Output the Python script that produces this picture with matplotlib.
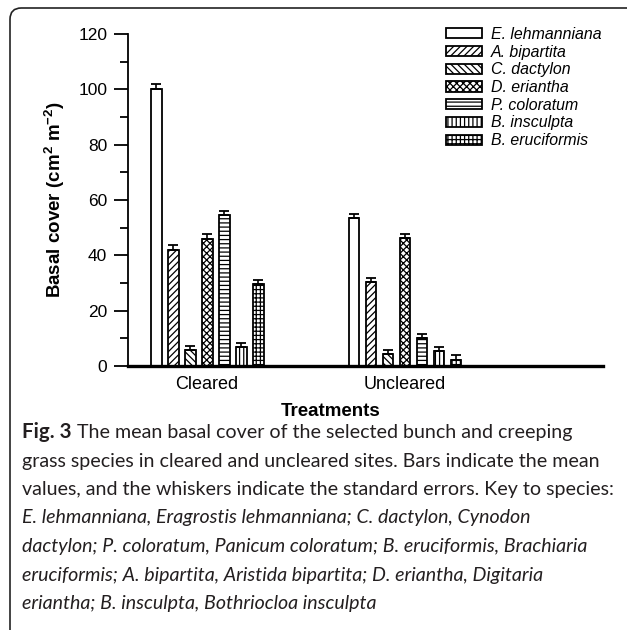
import matplotlib
matplotlib.use("Agg")
import matplotlib.pyplot as plt
import numpy as np
from matplotlib.patches import FancyBboxPatch

# ---------------- data ----------------
treatments = ["Cleared", "Uncleared"]
species = ["E. lehmanniana", "A. bipartita", "C. dactylon", "D. eriantha",
           "P. coloratum", "B. insculpta", "B. eruciformis"]
cleared_mean = [100.3, 41.9, 5.7, 45.9, 54.7, 6.9, 29.5]
cleared_se = [1.6, 1.7, 1.7, 1.7, 1.4, 1.5, 1.7]
uncleared_mean = [53.4, 30.5, 4.2, 46.1, 10.0, 5.3, 2.2]
uncleared_se = [1.6, 1.4, 1.7, 1.7, 1.7, 1.6, 1.7]
yticks_major = [0, 20, 40, 60, 80, 100, 120]
yticks_minor = [10, 30, 50, 70, 90, 110]

caption_lines = [
    ("Fig. 3", " The mean basal cover of the selected bunch and creeping", "normal"),
    ("", "grass species in cleared and uncleared sites. Bars indicate the mean", "normal"),
    ("", "values, and the whiskers indicate the standard errors. Key to species:", "normal"),
    ("", "E. lehmanniana, Eragrostis lehmanniana; C. dactylon, Cynodon", "italic"),
    ("", "dactylon; P. coloratum, Panicum coloratum; B. eruciformis, Brachiaria", "italic"),
    ("", "eruciformis; A. bipartita, Aristida bipartita; D. eriantha, Digitaria", "italic"),
    ("", "eriantha; B. insculpta, Bothriocloa insculpta", "italic"),
]

# ---------------- style ----------------
plt.rcParams["font.family"] = ["Liberation Sans", "DejaVu Sans"]
plt.rcParams["mathtext.fontset"] = "custom"
plt.rcParams["mathtext.rm"] = "Liberation Sans:bold"
plt.rcParams["mathtext.bf"] = "Liberation Sans:bold"
plt.rcParams["hatch.linewidth"] = 0.9
plt.rcParams["hatch.color"] = "black"

W, H, DPI = 627, 630, 100
fig = plt.figure(figsize=(W / DPI, H / DPI), dpi=DPI)

def px(x, y):
    return x / W, 1 - y / H

# rounded frame around the figure (clipped at right and bottom)
frame = FancyBboxPatch(px(10, 680), (700 - 10) / W, (680 - 8) / H,
                       boxstyle="round,pad=0,rounding_size=0.018",
                       transform=fig.transFigure, fill=False,
                       edgecolor="#222222", linewidth=1.2, clip_on=True)
fig.patches.append(frame)

ax_left, ax_right, ax_top, ax_bottom = 128, 603, 34, 366
ax = fig.add_axes([ax_left / W, 1 - ax_bottom / H, (ax_right - ax_left) / W,
                   (ax_bottom - ax_top) / H])

hatches = [None, "/////", "\\\\\\\\\\", "xxxxx", "----", "||||", "++++"]
width = 0.054
step = 0.0859
x = np.arange(len(treatments))

for i, sp in enumerate(species):
    means = [cleared_mean[i], uncleared_mean[i]]
    ses = [cleared_se[i], uncleared_se[i]]
    pos = x + (i - 3) * step
    ax.bar(pos, means, width=width, color="white", edgecolor="black",
           linewidth=1.3, hatch=hatches[i], label=sp, zorder=2)
    ax.errorbar(pos, means, yerr=[np.zeros(len(means)), ses], fmt="none",
                ecolor="black", elinewidth=1.2, capsize=3.5, capthick=1.3,
                zorder=3)

ax.set_xlim(-0.40, 2.0)
ax.set_ylim(0, 120)
ax.set_yticks(yticks_major)
ax.set_yticks(yticks_minor, minor=True)
ax.tick_params(axis="y", which="major", length=10, width=1.3, pad=5,
               labelsize=12.5, direction="out")
ax.tick_params(axis="y", which="minor", length=6, width=1.3, direction="out")
ax.set_xticks(x)
ax.set_xticklabels(treatments, fontsize=13)
ax.tick_params(axis="x", length=0, pad=7)
for s in ["top", "right"]:
    ax.spines[s].set_visible(False)
ax.spines["left"].set_linewidth(1.3)
ax.spines["bottom"].set_linewidth(2.4)
ax.spines["bottom"].set_zorder(4)

ax.set_ylabel(r"Basal cover (cm$^{\mathbf{2}}$ m$^{\mathbf{-2}}$)",
              fontsize=13.5, fontweight="bold")
ax.yaxis.set_label_coords((67 - ax_left) / (ax_right - ax_left), 0.5)
fig.text(*px(331, 412), "Treatments", fontsize=13.5, fontweight="bold",
         ha="center", va="center")

leg = ax.legend(loc="upper left", bbox_to_anchor=px(446, 27),
                bbox_transform=fig.transFigure, frameon=False,
                prop={"style": "italic", "size": 11.4},
                handlelength=2.25, handleheight=0.6, handletextpad=0.6,
                labelspacing=0.17, borderpad=0, borderaxespad=0)

# ---------------- caption ----------------
renderer = fig.canvas.get_renderer()
cap_font = ["Lato", "DejaVu Sans"]
probe = fig.text(0, 0, caption_lines[2][1], fontsize=14, family=cap_font)
wpx = probe.get_window_extent(renderer).width
probe.remove()
cap_size = 14 * (617 - 22) / wpx
probe = fig.text(0, 0, caption_lines[4][1], fontsize=14, family=cap_font,
                 style="italic")
wpx_i = probe.get_window_extent(renderer).width
probe.remove()
cap_size_i = 14 * (592 - 22) / wpx_i

baselines = [438, 466.5, 495, 523.5, 552, 580.5, 609]
for (bold, rest, style), yb in zip(caption_lines, baselines):
    xstart = 22
    size = cap_size if style == "normal" else cap_size_i
    if bold:
        t = fig.text(*px(xstart, yb), bold, fontsize=size * 1.04,
                     family=cap_font, fontweight="bold", va="baseline",
                     color="#231f20")
        xstart += t.get_window_extent(renderer).width
    fig.text(*px(xstart, yb), rest, fontsize=size, family=cap_font,
             style=style, va="baseline", color="#231f20")

fig.savefig("out.png", dpi=DPI)
